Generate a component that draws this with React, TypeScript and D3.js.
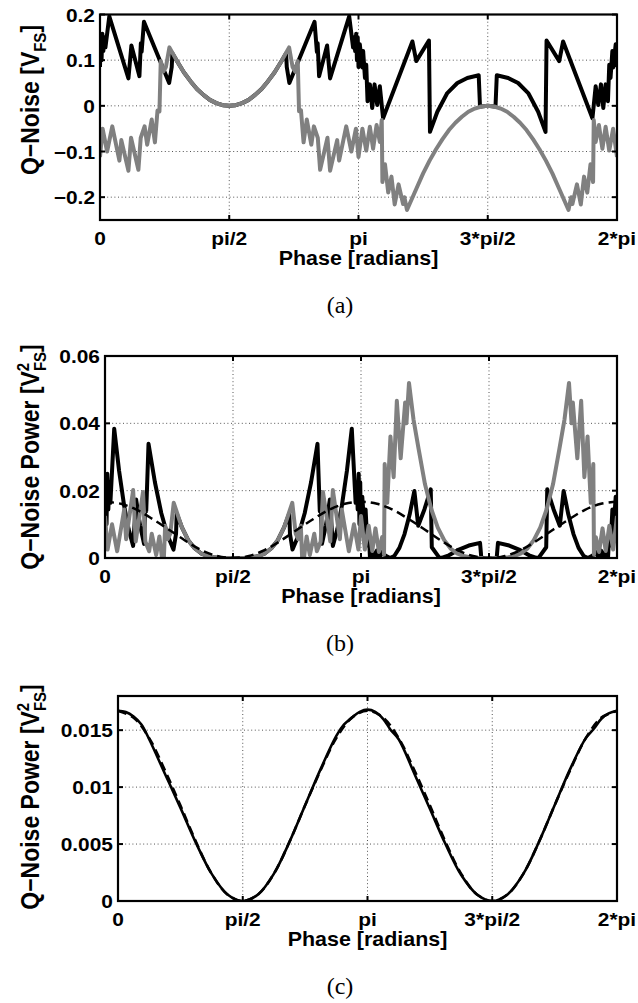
import React from "react";
import * as d3 from "d3";

type Pt = [number, number];

// x values are phase in units of pi/2 (0 .. 4 == 0 .. 2*pi)
const PHASE_TICKS = [0, 1, 2, 3, 4];
const PHASE_TICK_LABELS = ["0", "pi/2", "pi", "3*pi/2", "2*pi"];

const A_Y_TICKS = [-0.2, -0.1, 0, 0.1, 0.2];
const A_Y_TICK_LABELS = ["\u22120.2", "\u22120.1", "0", "0.1", "0.2"];
const B_Y_TICKS = [0, 0.02, 0.04, 0.06];
const B_Y_TICK_LABELS = ["0", "0.02", "0.04", "0.06"];
const C_Y_TICKS = [0, 0.005, 0.01, 0.015];
const C_Y_TICK_LABELS = ["0", "0.005", "0.01", "0.015"];

// Panel (a): quantisation noise, black series
const A_BLACK: Pt[] = [
  [0.000,0.085],[0.006,0.150],[0.012,0.100],[0.018,0.158],[0.026,0.120],[0.034,0.150],[0.042,0.128],[0.072,0.196],
  [0.220,0.060],[0.243,0.132],[0.305,0.065],[0.316,0.137],[0.322,0.118],[0.340,0.184],[0.535,0.050],[0.555,0.085],
  [0.560,0.115],[0.600,0.096],[0.650,0.073],[0.700,0.054],[0.750,0.037],[0.800,0.024],[0.850,0.013],[0.900,0.006],
  [0.950,0.0015],[1.000,0],
  [1.050,0.0015],[1.100,0.006],[1.150,0.013],[1.200,0.024],[1.250,0.037],[1.300,0.054],[1.350,0.073],[1.400,0.096],
  [1.440,0.115],[1.445,0.085],[1.465,0.050],[1.660,0.184],[1.678,0.118],[1.684,0.137],[1.695,0.065],[1.757,0.132],
  [1.780,0.060],[1.928,0.196],[1.958,0.128],[1.966,0.150],[1.974,0.120],[1.982,0.158],[1.988,0.100],[1.994,0.150],
  [2.000,0.085],
  [2.010,0.135],[2.030,0.084],[2.036,0.120],[2.050,0.061],[2.060,0.090],[2.070,0.010],[2.088,0.047],[2.106,-0.005],
  [2.124,0.047],[2.145,0.002],[2.165,0.043],[2.190,-0.027],[2.417,0.141],[2.447,0.098],[2.545,0.143],[2.553,-0.057],
  [2.610,-0.013],[2.687,0.028],[2.765,0.050],[2.842,0.061],[2.930,0.067],[2.940,-0.001],[2.950,-0.0015],[3.000,0.000],
  [3.050,-0.0015],[3.060,-0.001],[3.070,0.067],[3.158,0.061],[3.235,0.050],[3.313,0.028],[3.390,-0.013],[3.447,-0.057],
  [3.455,0.143],[3.553,0.098],[3.583,0.141],[3.810,-0.027],[3.835,0.043],[3.855,0.002],[3.876,0.047],[3.894,-0.005],
  [3.912,0.047],[3.930,0.010],[3.940,0.090],[3.950,0.061],[3.964,0.120],[3.970,0.084],[3.990,0.135],[4.000,0.085],
];

// Panel (a): gray series
const A_GRAY: Pt[] = [
  [0.000,-0.112],[0.020,-0.050],[0.055,-0.100],[0.095,-0.045],[0.150,-0.120],[0.165,-0.075],[0.220,-0.142],[0.240,-0.070],
  [0.297,-0.140],[0.315,-0.070],[0.345,-0.045],[0.365,-0.085],[0.400,-0.030],[0.425,-0.080],[0.445,-0.010],[0.460,-0.012],
  [0.470,0.098],[0.490,0.075],[0.510,0.085],[0.537,0.128],[0.600,0.096],[0.650,0.073],[0.700,0.054],[0.750,0.037],
  [0.800,0.024],[0.850,0.013],[0.900,0.006],[0.950,0.0015],[1.000,0],
  [1.050,0.0015],[1.100,0.006],[1.150,0.013],[1.200,0.024],[1.250,0.037],[1.300,0.054],[1.350,0.073],[1.400,0.096],
  [1.463,0.128],[1.490,0.085],[1.510,0.075],[1.530,0.098],[1.540,-0.012],[1.555,-0.010],[1.575,-0.080],[1.600,-0.030],
  [1.635,-0.085],[1.655,-0.045],[1.685,-0.070],[1.703,-0.140],[1.760,-0.070],[1.780,-0.142],[1.835,-0.075],[1.850,-0.120],
  [1.905,-0.045],[1.945,-0.100],[1.980,-0.050],[2.000,-0.112],
  [2.030,-0.050],[2.060,-0.098],[2.088,-0.046],[2.113,-0.094],[2.140,-0.042],[2.165,-0.079],[2.180,-0.031],[2.185,-0.167],
  [2.205,-0.128],[2.230,-0.190],[2.255,-0.155],[2.280,-0.216],[2.310,-0.172],[2.345,-0.215],[2.355,-0.200],[2.375,-0.228],
  [2.450,-0.180],[2.500,-0.148],[2.550,-0.120],[2.600,-0.095],[2.650,-0.073],[2.700,-0.053],[2.750,-0.037],[2.800,-0.024],
  [2.850,-0.013],[2.900,-0.006],[2.950,-0.0015],[3.000,0],
  [3.050,-0.0015],[3.100,-0.006],[3.150,-0.013],[3.200,-0.024],[3.250,-0.037],[3.300,-0.053],[3.350,-0.073],[3.400,-0.095],
  [3.450,-0.120],[3.500,-0.148],[3.550,-0.180],[3.625,-0.228],[3.645,-0.200],[3.655,-0.215],[3.690,-0.172],[3.720,-0.216],
  [3.745,-0.155],[3.770,-0.190],[3.795,-0.128],[3.815,-0.167],[3.820,-0.031],[3.835,-0.079],[3.860,-0.042],[3.887,-0.094],
  [3.912,-0.046],[3.940,-0.098],[3.970,-0.050],[4.000,-0.112],
];

// Panel (b): noise power, black series
const B_BLACK: Pt[] = [
  [0.000,0.0072],[0.006,0.0225],[0.012,0.0100],[0.018,0.0250],[0.026,0.0144],[0.034,0.0225],[0.042,0.0164],[0.072,0.0384],
  [0.110,0.0259],[0.150,0.0154],[0.185,0.0085],[0.220,0.0036],[0.243,0.0174],[0.274,0.0097],[0.305,0.0042],[0.316,0.0188],
  [0.322,0.0139],[0.340,0.0339],[0.390,0.0225],[0.440,0.0133],[0.490,0.0066],[0.535,0.0025],[0.555,0.0072],[0.560,0.0132],
  [0.600,0.0092],[0.650,0.0053],[0.700,0.0029],[0.750,0.0014],[0.800,0.0006],[0.850,0.0002],[0.900,0.0000],[1.000,0],
  [1.100,0.0000],[1.150,0.0002],[1.200,0.0006],[1.250,0.0014],[1.300,0.0029],[1.350,0.0053],[1.400,0.0092],[1.440,0.0132],
  [1.445,0.0072],[1.465,0.0025],[1.510,0.0066],[1.560,0.0133],[1.610,0.0225],[1.660,0.0339],[1.678,0.0139],[1.684,0.0188],
  [1.695,0.0042],[1.726,0.0097],[1.757,0.0174],[1.780,0.0036],[1.815,0.0085],[1.850,0.0154],[1.890,0.0259],[1.928,0.0384],
  [1.958,0.0164],[1.966,0.0225],[1.974,0.0144],[1.982,0.0250],[1.988,0.0100],[1.994,0.0225],[2.000,0.0072],
  [2.010,0.0182],[2.030,0.0071],[2.036,0.0144],[2.050,0.0037],[2.060,0.0081],[2.070,0.0001],[2.088,0.0022],[2.106,0.0000],
  [2.124,0.0022],[2.145,0.0000],[2.165,0.0018],[2.190,0.0007],[2.227,0.0000],[2.260,0.0006],[2.300,0.0030],[2.340,0.0071],
  [2.380,0.0129],[2.417,0.0199],[2.447,0.0096],[2.496,0.0145],[2.545,0.0204],[2.553,0.0032],[2.610,0.0002],[2.630,0.0000],
  [2.687,0.0008],[2.765,0.0025],[2.842,0.0037],[2.930,0.0045],[2.940,0.0000],[3.000,0.0000],
  [3.060,0.0000],[3.070,0.0045],[3.158,0.0037],[3.235,0.0025],[3.313,0.0008],[3.370,0.0000],[3.390,0.0002],[3.447,0.0032],
  [3.455,0.0204],[3.504,0.0145],[3.553,0.0096],[3.583,0.0199],[3.620,0.0129],[3.660,0.0071],[3.700,0.0030],[3.740,0.0006],
  [3.773,0.0000],[3.810,0.0007],[3.835,0.0018],[3.855,0.0000],[3.876,0.0022],[3.894,0.0000],[3.912,0.0022],[3.930,0.0001],
  [3.940,0.0081],[3.950,0.0037],[3.964,0.0144],[3.970,0.0071],[3.990,0.0182],[4.000,0.0072],
];

// Panel (b): gray series
const B_GRAY: Pt[] = [
  [0.000,0.0125],[0.020,0.0025],[0.055,0.0100],[0.095,0.0020],[0.150,0.0144],[0.165,0.0056],[0.220,0.0202],[0.240,0.0049],
  [0.297,0.0196],[0.315,0.0049],[0.345,0.0020],[0.365,0.0072],[0.400,0.0009],[0.425,0.0064],[0.445,0.0001],[0.460,0.0001],
  [0.470,0.0096],[0.490,0.0056],[0.510,0.0072],[0.537,0.0164],[0.600,0.0092],[0.650,0.0053],[0.700,0.0029],[0.750,0.0014],
  [0.800,0.0006],[0.850,0.0002],[0.900,0.0000],[1.000,0],
  [1.100,0.0000],[1.150,0.0002],[1.200,0.0006],[1.250,0.0014],[1.300,0.0029],[1.350,0.0053],[1.400,0.0092],[1.463,0.0164],
  [1.490,0.0072],[1.510,0.0056],[1.530,0.0096],[1.540,0.0001],[1.555,0.0001],[1.575,0.0064],[1.600,0.0009],[1.635,0.0072],
  [1.655,0.0020],[1.685,0.0049],[1.703,0.0196],[1.760,0.0049],[1.780,0.0202],[1.835,0.0056],[1.850,0.0144],[1.905,0.0020],
  [1.945,0.0100],[1.980,0.0025],[2.000,0.0125],
  [2.030,0.0025],[2.060,0.0096],[2.088,0.0021],[2.113,0.0088],[2.140,0.0018],[2.165,0.0062],[2.180,0.0010],[2.185,0.0279],
  [2.205,0.0164],[2.230,0.0361],[2.255,0.0240],[2.280,0.0467],[2.310,0.0296],[2.345,0.0462],[2.355,0.0400],[2.375,0.0520],
  [2.410,0.0412],[2.450,0.0324],[2.500,0.0219],[2.550,0.0144],[2.600,0.0090],[2.650,0.0053],[2.700,0.0028],[2.750,0.0014],
  [2.800,0.0006],[2.850,0.0002],[2.900,0.0000],[3.000,0],
  [3.100,0.0000],[3.150,0.0002],[3.200,0.0006],[3.250,0.0014],[3.300,0.0028],[3.350,0.0053],[3.400,0.0090],[3.450,0.0144],
  [3.500,0.0219],[3.550,0.0324],[3.590,0.0412],[3.625,0.0520],[3.645,0.0400],[3.655,0.0462],[3.690,0.0296],[3.720,0.0467],
  [3.745,0.0240],[3.770,0.0361],[3.795,0.0164],[3.815,0.0279],[3.820,0.0010],[3.835,0.0062],[3.860,0.0018],[3.887,0.0088],
  [3.912,0.0021],[3.940,0.0096],[3.970,0.0025],[4.000,0.0125],
];

// Panel (b): dashed expected power
const B_DASHED: Pt[] = [
  [0.000,0.0167],[0.125,0.0161],[0.250,0.0143],[0.375,0.0115],[0.500,0.0084],[0.625,0.0052],[0.750,0.0024],[0.875,0.0006],
  [1.000,0.0000],[1.125,0.0006],[1.250,0.0024],[1.375,0.0052],[1.500,0.0084],[1.625,0.0115],[1.750,0.0143],[1.875,0.0161],
  [2.000,0.0167],[2.125,0.0161],[2.250,0.0143],[2.375,0.0115],[2.500,0.0084],[2.625,0.0052],[2.750,0.0024],[2.875,0.0006],
  [3.000,0.0000],[3.125,0.0006],[3.250,0.0024],[3.375,0.0052],[3.500,0.0084],[3.625,0.0115],[3.750,0.0143],[3.875,0.0161],
  [4.000,0.0167],
];

// Panel (c): averaged power (solid) and expected power (dashed)
const C_SOLID: Pt[] = [
  [0.000,0.0167],[0.0625,0.0166],[0.125,0.0162],[0.1875,0.0155],[0.250,0.0142],[0.375,0.0112],[0.500,0.0082],[0.625,0.0051],
  [0.750,0.0024],[0.875,0.0006],[1.000,0.0000],[1.125,0.0006],[1.250,0.0024],[1.375,0.0052],[1.500,0.0084],[1.625,0.0116],
  [1.750,0.0145],[1.8125,0.0155],[1.875,0.0161],[1.9375,0.0166],[2.000,0.0168],[2.0625,0.0166],[2.125,0.0160],[2.1875,0.0150],
  [2.250,0.0142],[2.375,0.0112],[2.500,0.0081],[2.625,0.0050],[2.750,0.0023],[2.875,0.0006],[3.000,0.0000],[3.125,0.0006],
  [3.250,0.0024],[3.375,0.0052],[3.500,0.0084],[3.625,0.0116],[3.750,0.0143],[3.8125,0.0151],[3.875,0.0160],[3.9375,0.0165],
  [4.000,0.0167],
];
const C_DASHED: Pt[] = [
  [0.000,0.0167],[0.125,0.0161],[0.250,0.0143],[0.375,0.0115],[0.500,0.0084],[0.625,0.0052],[0.750,0.0024],[0.875,0.0006],
  [1.000,0.0000],[1.125,0.0006],[1.250,0.0024],[1.375,0.0052],[1.500,0.0084],[1.625,0.0115],[1.750,0.0143],[1.875,0.0161],
  [2.000,0.0167],[2.125,0.0161],[2.250,0.0143],[2.375,0.0115],[2.500,0.0084],[2.625,0.0052],[2.750,0.0024],[2.875,0.0006],
  [3.000,0.0000],[3.125,0.0006],[3.250,0.0024],[3.375,0.0052],[3.500,0.0084],[3.625,0.0115],[3.750,0.0143],[3.875,0.0161],
  [4.000,0.0167],
];

const GRAY = "#808080";
const SANS = "'Liberation Sans', Arial, Helvetica, sans-serif";
const SERIF = "'Liberation Serif', 'DejaVu Serif', serif";

type LineSpec = { data: Pt[]; stroke: string; width: number; dash?: string; smooth?: boolean };
type PanelSpec = {
  id: string;
  left: number; right: number; top: number; bottom: number;
  yDomain: [number, number];
  yTicks: number[]; yTickLabels: string[];
  power: boolean;
  labelY: number;
  caption: string;
  lines: LineSpec[];
};

const TICK_FS = 19;
const LABEL_FS = 19.5;
const YLABEL_FS = 23;
const SX = 1.1; // horizontal stretch of the figure's lettering

function Panel({ p }: { p: PanelSpec }) {
  const x = d3.scaleLinear().domain([0, 4]).range([p.left, p.right]);
  const y = d3.scaleLinear().domain(p.yDomain).range([p.bottom, p.top]);
  const midX = (p.left + p.right) / 2;
  const tl = 5;
  return (
    <g>
      <defs>
        <clipPath id={`clip-${p.id}`}>
          <rect x={p.left} y={p.top} width={p.right - p.left} height={p.bottom - p.top} />
        </clipPath>
      </defs>
      {/* grid */}
      {PHASE_TICKS.filter((t) => t > 0 && t < 4).map((t) => (
        <line key={`gx${t}`} x1={x(t)} x2={x(t)} y1={p.top} y2={p.bottom}
          stroke="#555" strokeWidth={1} strokeDasharray="1 2.6" />
      ))}
      {p.yTicks.filter((t) => y(t) > p.top + 1 && y(t) < p.bottom - 1).map((t) => (
        <line key={`gy${t}`} x1={p.left} x2={p.right} y1={y(t)} y2={y(t)}
          stroke="#555" strokeWidth={1} strokeDasharray="1 2.6" />
      ))}
      {/* data */}
      <g clipPath={`url(#clip-${p.id})`}>
        {p.lines.map((l, i) => {
          const gen = d3.line<Pt>().x((d) => x(d[0])).y((d) => y(d[1]));
          if (l.smooth) gen.curve(d3.curveCatmullRom);
          return (
            <path key={i} d={gen(l.data) || ""} fill="none" stroke={l.stroke} strokeWidth={l.width}
              strokeDasharray={l.dash} strokeLinejoin="round" strokeLinecap="butt" />
          );
        })}
      </g>
      {/* ticks */}
      {PHASE_TICKS.map((t) => (
        <g key={`tx${t}`}>
          <line x1={x(t)} x2={x(t)} y1={p.bottom} y2={p.bottom - tl} stroke="#000" strokeWidth={2} />
          <line x1={x(t)} x2={x(t)} y1={p.top} y2={p.top + tl} stroke="#000" strokeWidth={2} />
        </g>
      ))}
      {p.yTicks.map((t) => (
        <g key={`ty${t}`}>
          <line x1={p.left} x2={p.left + tl} y1={y(t)} y2={y(t)} stroke="#000" strokeWidth={2} />
          <line x1={p.right} x2={p.right - tl} y1={y(t)} y2={y(t)} stroke="#000" strokeWidth={2} />
        </g>
      ))}
      {/* box */}
      <rect x={p.left} y={p.top} width={p.right - p.left} height={p.bottom - p.top}
        fill="none" stroke="#000" strokeWidth={2.2} />
      {/* tick labels */}
      {PHASE_TICKS.map((t, i) => (
        <text key={`lx${t}`} transform={`translate(${x(t)},${p.bottom + 25}) scale(${SX},1)`} textAnchor="middle"
          fontFamily={SANS} fontWeight="bold" fontSize={TICK_FS}>{PHASE_TICK_LABELS[i]}</text>
      ))}
      {p.yTicks.map((t, i) => (
        <text key={`ly${t}`} transform={`translate(${p.left - 5},${y(t) + 7}) scale(${SX},1)`} textAnchor="end"
          fontFamily={SANS} fontWeight="bold" fontSize={TICK_FS}>{p.yTickLabels[i]}</text>
      ))}
      {/* axis labels */}
      <text transform={`translate(${midX},${p.bottom + 45}) scale(${SX},1)`} textAnchor="middle" fontFamily={SANS}
        fontWeight="bold" fontSize={LABEL_FS}>Phase [radians]</text>
      <text transform={`translate(39,${p.labelY}) rotate(-90) scale(1,${SX})`} textAnchor="middle" fontFamily={SANS}
        fontWeight="bold" fontSize={YLABEL_FS}>
        {p.power ? (
          <>
            Q{"\u2212"}Noise Power [V
            <tspan dy={-9} fontSize={15}>2</tspan>
            <tspan dx={-8.3} dy={15} fontSize={15}>FS</tspan>
            <tspan dy={-6}>]</tspan>
          </>
        ) : (
          <>
            Q{"\u2212"}Noise [V
            <tspan dy={6} fontSize={15}>FS</tspan>
            <tspan dy={-6}>]</tspan>
          </>
        )}
      </text>
      {/* caption */}
      <text x={340} y={p.bottom + 93} textAnchor="middle" fontFamily={SERIF} fontSize={24}>{p.caption}</text>
    </g>
  );
}

const PANELS: PanelSpec[] = [
  {
    id: "a", left: 100, right: 617, top: 14.5, bottom: 220,
    yDomain: [-0.25, 0.2], yTicks: A_Y_TICKS, yTickLabels: A_Y_TICK_LABELS, power: false, labelY: 100, caption: "(a)",
    lines: [
      { data: A_BLACK, stroke: "#000", width: 4 },
      { data: A_GRAY, stroke: GRAY, width: 4 },
    ],
  },
  {
    id: "b", left: 105, right: 617, top: 356, bottom: 558,
    yDomain: [0, 0.06], yTicks: B_Y_TICKS, yTickLabels: B_Y_TICK_LABELS, power: true, labelY: 457, caption: "(b)",
    lines: [
      { data: B_BLACK, stroke: "#000", width: 4 },
      { data: B_GRAY, stroke: GRAY, width: 4 },
      { data: B_DASHED, stroke: "#000", width: 2.5, dash: "9 5", smooth: true },
    ],
  },
  {
    id: "c", left: 118, right: 617, top: 696, bottom: 901,
    yDomain: [0, 0.018], yTicks: C_Y_TICKS, yTickLabels: C_Y_TICK_LABELS, power: true, labelY: 797, caption: "(c)",
    lines: [
      { data: C_SOLID, stroke: "#000", width: 2.6, smooth: true },
      { data: C_DASHED, stroke: "#000", width: 2.6, dash: "9 5", smooth: true },
    ],
  },
];

export default function App() {
  return (
    <div style={{ position: "absolute", left: 0, top: 0 }}>
      <svg width={638} height={1003} viewBox="0 0 638 1003" style={{ display: "block", background: "#fff" }}>
        {PANELS.map((p) => (
          <Panel key={p.id} p={p} />
        ))}
      </svg>
    </div>
  );
}
